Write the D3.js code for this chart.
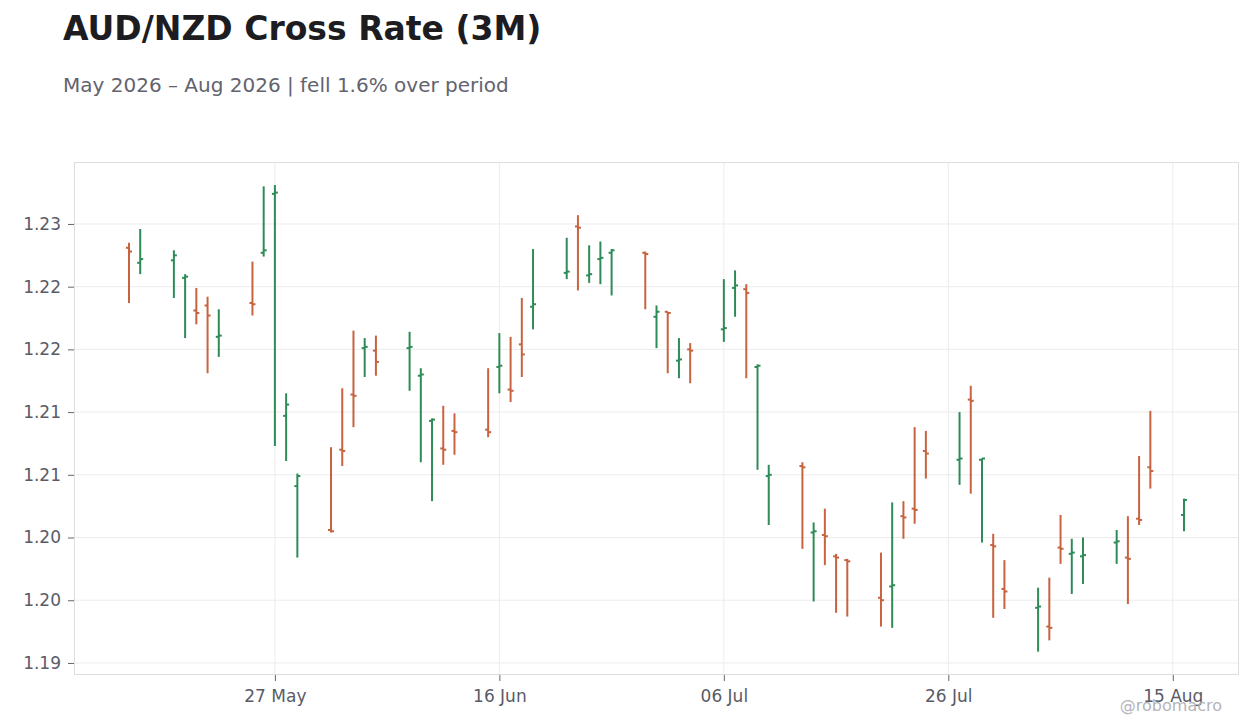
<!DOCTYPE html>
<html>
<head>
<meta charset="utf-8">
<script src="https://cdn.jsdelivr.net/npm/d3@7"></script>
<style>
  body { margin: 0; background: #fff; }
  svg { display: block; font-family: "DejaVu Sans", sans-serif; }
</style>
</head>
<body>
<svg id="chart" width="1260" height="728"></svg>
<script>
const dates = [
  "2026-05-14", "2026-05-15", "2026-05-18", "2026-05-19", "2026-05-20", "2026-05-21", "2026-05-22",
  "2026-05-25", "2026-05-26", "2026-05-27", "2026-05-28", "2026-05-29",
  "2026-06-01", "2026-06-02", "2026-06-03", "2026-06-04", "2026-06-05",
  "2026-06-08", "2026-06-09", "2026-06-10", "2026-06-11", "2026-06-12",
  "2026-06-15", "2026-06-16", "2026-06-17", "2026-06-18", "2026-06-19",
  "2026-06-22", "2026-06-23", "2026-06-24", "2026-06-25", "2026-06-26",
  "2026-06-29", "2026-06-30", "2026-07-01", "2026-07-02", "2026-07-03",
  "2026-07-06", "2026-07-07", "2026-07-08", "2026-07-09", "2026-07-10",
  "2026-07-13", "2026-07-14", "2026-07-15", "2026-07-16", "2026-07-17",
  "2026-07-20", "2026-07-21", "2026-07-22", "2026-07-23", "2026-07-24",
  "2026-07-27", "2026-07-28", "2026-07-29", "2026-07-30", "2026-07-31",
  "2026-08-03", "2026-08-04", "2026-08-05", "2026-08-06", "2026-08-07",
  "2026-08-10", "2026-08-11", "2026-08-12", "2026-08-13", "2026-08-16"
];
const open = [
  1.2231, 1.2219, 1.2221, 1.2207, 1.2181, 1.2185, 1.2160, 1.2187, 1.2227, 1.2274, 1.2097, 1.2041,
  1.2006, 1.2070, 1.2114, 1.2151, 1.2149,
  1.2151, 1.2129, 1.2093, 1.2071, 1.2085,
  1.2086, 1.2136, 1.2118, 1.2154, 1.2184,
  1.2211, 1.2248, 1.2209, 1.2222, 1.2227,
  1.2227, 1.2176, 1.2180, 1.2141, 1.2150,
  1.2166, 1.2199, 1.2198, 1.2136, 1.2049,
  1.2057, 1.2004, 1.2002, 1.1985, 1.1982,
  1.1952, 1.1961, 1.2017, 1.2023, 1.2069,
  1.2062, 1.2110, 1.2062, 1.1994, 1.1959,
  1.1944, 1.1929, 1.1992, 1.1987, 1.1985,
  1.1996, 1.1984, 1.2015, 1.2056, 1.2018
];
const high = [
  1.2235, 1.2246, 1.2229, 1.2210, 1.2199, 1.2192, 1.2182, 1.2220, 1.2280, 1.2281, 1.2115, 1.2051,
  1.2072, 1.2119, 1.2165, 1.2159, 1.2161,
  1.2164, 1.2135, 1.2095, 1.2105, 1.2099,
  1.2135, 1.2163, 1.2160, 1.2191, 1.2230,
  1.2239, 1.2257, 1.2233, 1.2236, 1.2230,
  1.2228, 1.2185, 1.2180, 1.2159, 1.2155,
  1.2206, 1.2213, 1.2202, 1.2138, 1.2058,
  1.2060, 1.2012, 1.2023, 1.1987, 1.1983,
  1.1988, 1.2028, 1.2029, 1.2088, 1.2085,
  1.2100, 1.2121, 1.2063, 1.2003, 1.1982,
  1.1960, 1.1968, 1.2018, 1.1999, 1.2000,
  1.2006, 1.2017, 1.2065, 1.2101, 1.2031
];
const low = [
  1.2187, 1.2210, 1.2191, 1.2159, 1.2170, 1.2131, 1.2144, 1.2177, 1.2224, 1.2073, 1.2061, 1.1984,
  1.2004, 1.2057, 1.2088, 1.2128, 1.2129,
  1.2117, 1.2060, 1.2029, 1.2058, 1.2066,
  1.2080, 1.2115, 1.2108, 1.2128, 1.2166,
  1.2206, 1.2197, 1.2203, 1.2202, 1.2193,
  1.2182, 1.2151, 1.2131, 1.2127, 1.2123,
  1.2156, 1.2176, 1.2127, 1.2054, 1.2010,
  1.1991, 1.1949, 1.1978, 1.1940, 1.1937,
  1.1929, 1.1928, 1.1999, 1.2011, 1.2047,
  1.2042, 1.2035, 1.1996, 1.1936, 1.1943,
  1.1909, 1.1918, 1.1979, 1.1955, 1.1963,
  1.1979, 1.1947, 1.2010, 1.2039, 1.2005
];
const close = [
  1.2228, 1.2222, 1.2225, 1.2208, 1.2179, 1.2177, 1.2161, 1.2186, 1.2229, 1.2275, 1.2106, 1.2049,
  1.2005, 1.2069, 1.2113, 1.2152, 1.2140,
  1.2152, 1.2130, 1.2094, 1.2070, 1.2084,
  1.2084, 1.2137, 1.2117, 1.2146, 1.2186,
  1.2212, 1.2247, 1.2210, 1.2223, 1.2229,
  1.2226, 1.2180, 1.2179, 1.2142, 1.2149,
  1.2167, 1.2201, 1.2195, 1.2137, 1.2050,
  1.2056, 1.2005, 1.2001, 1.1984, 1.1981,
  1.1950, 1.1962, 1.2016, 1.2022, 1.2067,
  1.2063, 1.2109, 1.2063, 1.1993, 1.1957,
  1.1945, 1.1928, 1.1991, 1.1988, 1.1986,
  1.1997, 1.1983, 1.2014, 1.2053, 1.2030
];

const yTicks = [1.19, 1.195, 1.2, 1.205, 1.21, 1.215, 1.22, 1.225];
const yTickLabels = ["1.19", "1.20", "1.20", "1.21", "1.21", "1.22", "1.22", "1.23"];
const xTicks = ["2026-05-27", "2026-06-16", "2026-07-06", "2026-07-26", "2026-08-15"];

const upColor = "#2e8b57";
const downColor = "#c8623f";

const parse = d3.utcParse("%Y-%m-%d");
const bars = dates.map((d, i) => ({
  date: parse(d), o: open[i], h: high[i], l: low[i], c: close[i]
}));

const svg = d3.select("#chart");
const margin = { left: 74, right: 21, top: 162, bottom: 53 };
const W = 1260, H = 728;

// domain padded by a fraction of a day each side
const day = 864e5;
const x = d3.scaleUtc()
  .domain([new Date(+parse("2026-05-14") - 4.9 * day), new Date(+parse("2026-08-16") + 4.9 * day)])
  .range([margin.left, W - margin.right]);

const y = d3.scaleLinear()
  .domain([1.18904, 1.22994])
  .range([H - margin.bottom, margin.top]);

// title
svg.append("text")
  .attr("x", 63).attr("y", 40)
  .attr("font-size", 33).attr("font-weight", "bold")
  .attr("fill", "#1c1c21")
  .text("AUD/NZD Cross Rate (3M)");

svg.append("text")
  .attr("x", 63).attr("y", 92)
  .attr("font-size", 20)
  .attr("fill", "#62636e")
  .text("May 2026 \u2013 Aug 2026 | fell 1.6% over period");

// grid
const grid = svg.append("g");
grid.selectAll("line.h").data(yTicks).join("line")
  .attr("x1", margin.left).attr("x2", W - margin.right)
  .attr("y1", d => y(d)).attr("y2", d => y(d))
  .attr("stroke", "#ececec").attr("stroke-width", 1);
grid.selectAll("line.v").data(xTicks).join("line")
  .attr("x1", d => x(parse(d))).attr("x2", d => x(parse(d)))
  .attr("y1", margin.top).attr("y2", H - margin.bottom)
  .attr("stroke", "#ececec").attr("stroke-width", 1);

// frame
svg.append("rect")
  .attr("x", margin.left + 0.5).attr("y", margin.top + 0.5)
  .attr("width", W - margin.right - margin.left - 1)
  .attr("height", H - margin.bottom - margin.top - 1)
  .attr("fill", "none").attr("stroke", "#dedede");

// axes
const yAxis = d3.axisLeft(y)
  .tickValues(yTicks)
  .tickFormat((d, i) => yTickLabels[i])
  .tickSize(6).tickPadding(7);
const gy = svg.append("g")
  .attr("transform", `translate(${margin.left},0)`)
  .call(yAxis);

const xAxis = d3.axisBottom(x)
  .tickValues(xTicks.map(parse))
  .tickFormat(d3.utcFormat("%d %b"))
  .tickSize(6).tickPadding(9);
const gx = svg.append("g")
  .attr("transform", `translate(0,${H - margin.bottom})`)
  .call(xAxis);

[gx, gy].forEach(g => {
  g.select(".domain").remove();
  g.selectAll(".tick line").attr("stroke", "#666");
  g.selectAll(".tick text")
    .attr("fill", "#5a5b66")
    .attr("font-size", 17)
    .attr("font-family", "DejaVu Sans, sans-serif");
});

// ohlc bars
const g = svg.append("g");
const item = g.selectAll("g.bar").data(bars).join("g")
  .attr("stroke", d => d.c >= d.o ? upColor : downColor)
  .attr("stroke-width", 2);
item.append("line")
  .attr("x1", d => x(d.date)).attr("x2", d => x(d.date))
  .attr("y1", d => y(d.h)).attr("y2", d => y(d.l));
item.append("line")
  .attr("x1", d => x(d.date) - 3).attr("x2", d => x(d.date))
  .attr("y1", d => y(d.o)).attr("y2", d => y(d.o));
item.append("line")
  .attr("x1", d => x(d.date)).attr("x2", d => x(d.date) + 3)
  .attr("y1", d => y(d.c)).attr("y2", d => y(d.c));

// watermark
svg.append("text")
  .attr("x", 1222).attr("y", 711)
  .attr("text-anchor", "end")
  .attr("font-size", 16)
  .attr("fill", "#b4b4ba")
  .text("@robomacro");
</script>
</body>
</html>
